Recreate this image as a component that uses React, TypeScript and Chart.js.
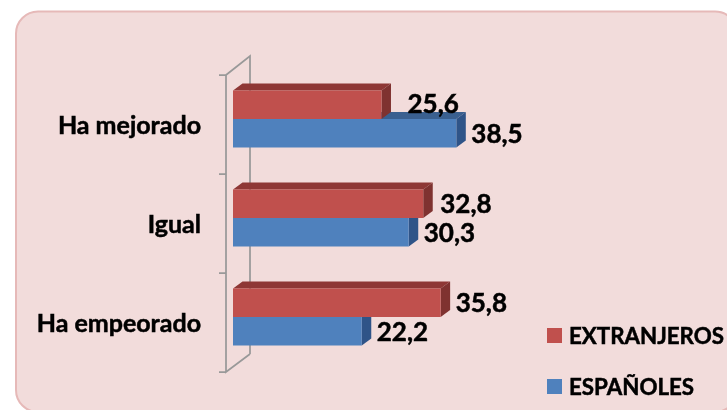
import React, { useEffect, useRef } from "react";
import { Chart, registerables } from "chart.js";

Chart.register(...registerables);

const categories = ["Ha mejorado", "Igual", "Ha empeorado"];
const extranjeros = [25.6, 32.8, 35.8];
const espanoles = [38.5, 30.3, 22.2];
const seriesNames = ["EXTRANJEROS", "ESPAÑOLES"];

const RED = "#C0504D";
const RED_TOP = "#8E3735";
const RED_SIDE = "#7F3230";
const BLUE = "#4F81BD";
const BLUE_TOP = "#3A6090";
const BLUE_SIDE = "#2F5488";
const FONT = "Lato, 'Open Sans', sans-serif";
const DX = 9.5;
const DY = 7;

function poly(ctx: CanvasRenderingContext2D, pts: number[][], fill: string) {
  ctx.fillStyle = fill;
  ctx.beginPath();
  pts.forEach((p, i) => (i ? ctx.lineTo(p[0], p[1]) : ctx.moveTo(p[0], p[1])));
  ctx.closePath();
  ctx.fill();
}

const backgroundPlugin = {
  id: "panel",
  beforeDraw(chart: any) {
    const { ctx } = chart;
    ctx.save();
    ctx.fillStyle = "#F2DCDB";
    ctx.strokeStyle = "#E6B9B8";
    ctx.lineWidth = 2;
    ctx.beginPath();
    ctx.roundRect(16, 11.5, 721, 400.5, 22);
    ctx.fill();
    ctx.stroke();
    ctx.restore();
  },
};

const depthPlugin = {
  id: "depth",
  beforeDatasetsDraw(chart: any) {
    const { ctx, chartArea, scales } = chart;
    ctx.save();
    // wall
    const fx = chartArea.left - 7;
    const bx = chartArea.left + 17;
    const step = scales.y.height / categories.length;
    const top = chartArea.top + 5.5;
    const bottom = top + step * categories.length;
    ctx.strokeStyle = "#999999";
    ctx.lineWidth = 1.75;
    ctx.beginPath();
    ctx.moveTo(bx, bottom - 18);
    ctx.lineTo(bx, top - 19);
    ctx.lineTo(fx, top);
    ctx.lineTo(fx, bottom);
    ctx.lineTo(bx, bottom - 18);
    for (let i = 0; i <= categories.length; i++) {
      ctx.moveTo(fx - 7, top + step * i);
      ctx.lineTo(fx, top + step * i);
    }
    ctx.stroke();
    // faces of the bars: blue behind red
    [[1, BLUE_TOP, BLUE_SIDE], [0, RED_TOP, RED_SIDE]].forEach(([idx, topC, sideC]: any) => {
      chart.getDatasetMeta(idx).data.forEach((b: any) => {
        const l = b.base;
        const r = b.x;
        const t = b.y - b.height / 2;
        const u = b.y + b.height / 2;
        poly(ctx, [[l, t], [l + DX, t - DY], [r + DX, t - DY], [r, t]], topC);
        poly(ctx, [[r, t], [r + DX, t - DY], [r + DX, u - DY], [r, u]], sideC);
      });
    });
    ctx.restore();
  },
  afterDatasetsDraw(chart: any) {
    const { ctx } = chart;
    ctx.save();
    ctx.fillStyle = "#000";
    ctx.strokeStyle = "#000";
    ctx.lineWidth = 0.5;
    ctx.font = `bold 26px ${FONT}`;
    ctx.textBaseline = "middle";
    ctx.textAlign = "left";
    [0, 1].forEach((idx) => {
      const values = chart.data.datasets[idx].data;
      chart.getDatasetMeta(idx).data.forEach((b: any, i: number) => {
        const label = String(values[i]).replace(".", ",");
        // the shortest top bar's label sits further right and higher, clear of the bar below
        const gap = idx === 0 && i === 0 ? 26 : idx === 0 && i === 1 ? 17 : 15;
        const dy = idx === 0 && i === 0 ? -0.5 : 1;
        ctx.fillText(label, b.x + gap, b.y + dy);
        ctx.strokeText(label, b.x + gap, b.y + dy);
      });
    });
    // legend
    ctx.font = `bold 22.3px ${FONT}`;
    chart.data.datasets.forEach((d: any, i: number) => {
      const y = 335.5 + i * 51;
      ctx.fillStyle = d.backgroundColor;
      ctx.fillRect(547, y - 7.5, 15, 15);
      ctx.fillStyle = "#000";
      ctx.fillText(d.label, 569, y + 1);
      ctx.strokeText(d.label, 569, y + 1);
    });
    ctx.restore();
  },
};

export default function App() {
  const ref = useRef<HTMLCanvasElement>(null);
  useEffect(() => {
    document.body.style.margin = "0";
    const chart = new Chart(ref.current!, {
      type: "bar",
      data: {
        labels: categories,
        datasets: [
          { label: seriesNames[0], data: extranjeros, backgroundColor: RED },
          { label: seriesNames[1], data: espanoles, backgroundColor: BLUE },
        ],
      },
      options: {
        indexAxis: "y",
        responsive: false,
        animation: false,
        layout: { padding: { top: 69.5, bottom: 43.5, left: 0, right: 262 } },
        datasets: { bar: { categoryPercentage: 0.576, barPercentage: 1 } },
        plugins: { legend: { display: false }, tooltip: { enabled: false } },
        scales: {
          x: { display: false, min: 0, max: 40 },
          y: {
            afterFit(axis: any) {
              axis.width = 233;
            },
            border: { display: false },
            grid: { display: false },
            ticks: {
              color: "#000",
              padding: 24,
              labelOffset: 7,
              textStrokeColor: "#000",
              textStrokeWidth: 0.5,
              font: { family: FONT, size: 25, weight: "bold" },
            },
          },
        },
      },
      plugins: [backgroundPlugin, depthPlugin],
    } as any);
    return () => chart.destroy();
  }, []);
  return <canvas ref={ref} width={727} height={410} style={{ display: "block" }} />;
}
